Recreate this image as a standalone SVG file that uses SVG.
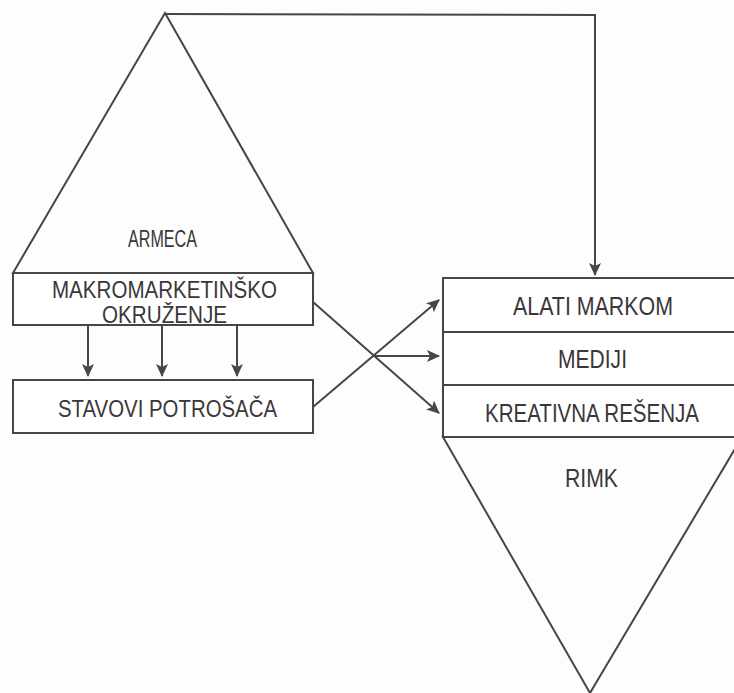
<svg xmlns="http://www.w3.org/2000/svg" width="734" height="693" viewBox="0 0 734 693">
  <style>
    .shape { fill: none; stroke: #4a4447; stroke-width: 2; stroke-linejoin: miter; }
    .box { fill: #ffffff; stroke: #4a4447; stroke-width: 2; }
    .conn { fill: none; stroke: #4a4447; stroke-width: 2; }
    .lbl { font-family: "Liberation Sans", Arial, sans-serif; fill: #3b3638; text-anchor: middle; }
    .l24 { font-size: 24px; }
    .l25 { font-size: 25px; }
  </style>
  <defs>
    <marker id="arrow" markerUnits="userSpaceOnUse" markerWidth="14" markerHeight="12" refX="12" refY="6" orient="auto">
      <path d="M0,0 L13,6 L0,12 L3,6 z" fill="#4a4447"/>
    </marker>
  </defs>

  <rect width="734" height="693" fill="#fdfdfd"/>

  <!-- Left column: ARMECA pyramid over the macro environment and consumer attitudes -->
  <g id="armeca">
    <polygon class="shape" points="165,13 13,273 313,273"/>
    <text class="lbl l24" x="162.5" y="247" textLength="69" lengthAdjust="spacingAndGlyphs">ARMECA</text>
  </g>
  <g id="makrookruzenje">
    <rect class="box" x="13" y="273" width="300" height="52"/>
    <text class="lbl l24" x="164.5" y="298" textLength="225" lengthAdjust="spacingAndGlyphs">MAKROMARKETINŠKO</text>
    <text class="lbl l24" x="164.5" y="323" textLength="125" lengthAdjust="spacingAndGlyphs">OKRUŽENJE</text>
  </g>
  <g id="stavovi">
    <rect class="box" x="13" y="380" width="300" height="53"/>
    <text class="lbl l24" x="167.5" y="417" textLength="219" lengthAdjust="spacingAndGlyphs">STAVOVI POTROŠAČA</text>
  </g>

  <!-- Right column: stacked tools over the inverted RIMK pyramid -->
  <g id="alati">
    <rect class="box" x="443" y="278" width="300" height="54"/>
    <text class="lbl l25" x="593" y="315" textLength="160" lengthAdjust="spacingAndGlyphs">ALATI MARKOM</text>
  </g>
  <g id="mediji">
    <rect class="box" x="443" y="332" width="300" height="53"/>
    <text class="lbl l25" x="592.5" y="368" textLength="69" lengthAdjust="spacingAndGlyphs">MEDIJI</text>
  </g>
  <g id="kreativna">
    <rect class="box" x="443" y="385" width="300" height="52"/>
    <text class="lbl l25" x="592" y="422" textLength="214" lengthAdjust="spacingAndGlyphs">KREATIVNA REŠENJA</text>
  </g>
  <g id="rimk">
    <polygon class="shape" points="443,437 742,437 590,693"/>
    <text class="lbl l25" x="591.5" y="487" textLength="53" lengthAdjust="spacingAndGlyphs">RIMK</text>
  </g>

  <!-- Connectors -->
  <g id="connectors">
    <polyline class="conn" points="165,14 595,15 595,275" marker-end="url(#arrow)"/>
    <line class="conn" x1="88" y1="325" x2="88" y2="376" marker-end="url(#arrow)"/>
    <line class="conn" x1="162" y1="325" x2="162" y2="376" marker-end="url(#arrow)"/>
    <line class="conn" x1="237" y1="325" x2="237" y2="376" marker-end="url(#arrow)"/>
    <line class="conn" x1="313" y1="302" x2="439" y2="413" marker-end="url(#arrow)"/>
    <line class="conn" x1="313" y1="407" x2="439" y2="300" marker-end="url(#arrow)"/>
    <line class="conn" x1="373" y1="356" x2="439" y2="356" marker-end="url(#arrow)"/>
  </g>
</svg>
